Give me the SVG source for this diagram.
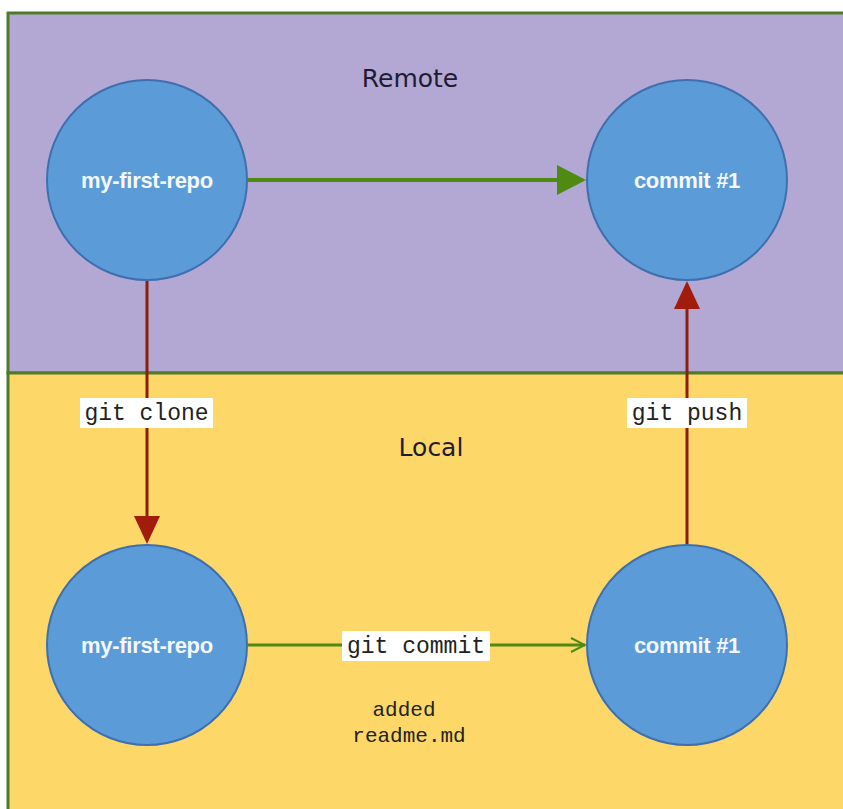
<svg xmlns="http://www.w3.org/2000/svg" width="843" height="809" viewBox="0 0 843 809">
<style>
.zone{stroke:#4f7a28;stroke-width:3}
.node circle{fill:#5b9bd8;stroke:#3f6fae;stroke-width:2}
.node text{font-family:"Liberation Sans",Arial,sans-serif;font-size:22px;font-weight:bold;fill:#f4f8fc;text-anchor:middle;letter-spacing:-0.3px}
.title{font-family:"DejaVu Sans",Verdana,sans-serif;font-size:25px;fill:#1e1b33;text-anchor:middle}
.lbl{font-family:"Liberation Mono","Courier New",monospace;font-size:23px;fill:#222;text-anchor:middle}
.note{font-family:"Liberation Mono","Courier New",monospace;font-size:21px;fill:#222;text-anchor:middle}
.lblbg{fill:#fff}
.g{stroke:#4f8a12;fill:none}
.r{stroke:#8b1e0c;stroke-width:3;fill:none}
</style>
<defs>
<marker id="agt" markerWidth="16" markerHeight="16" refX="15" refY="8" orient="auto" markerUnits="userSpaceOnUse"><path d="M1,1 L15,8 L1,15" fill="none" stroke="#4f8a12" stroke-width="2"/></marker>
</defs>
<rect width="843" height="809" fill="#fff"/>
<g id="remote-zone">
<rect class="zone" x="8" y="13" width="840" height="360" fill="#b3a7d4"/>
<text class="title" x="410" y="87">Remote</text>
</g>
<g id="local-zone">
<rect class="zone" x="8" y="373" width="840" height="445" fill="#fdd868"/>
<text class="title" x="431" y="456">Local</text>
</g>
<g id="connectors">
<line class="g" x1="248" y1="180" x2="570" y2="180" stroke-width="4"/>
<polygon points="557,165 586,180 557,195" fill="#4f8a12"/>
<line class="r" x1="147" y1="280" x2="147" y2="520"/>
<polygon points="134,516 160,516 147,544" fill="#a11c0a"/>
<line class="r" x1="687" y1="545" x2="687" y2="305"/>
<polygon points="674,309 700,309 687,281" fill="#a11c0a"/>
<line class="g" x1="248" y1="645" x2="585" y2="645" stroke-width="3" marker-end="url(#agt)"/>
<rect class="lblbg" x="80" y="398" width="133" height="30"/>
<text class="lbl" x="146.5" y="420">git clone</text>
<rect class="lblbg" x="627" y="398" width="120" height="30"/>
<text class="lbl" x="687" y="420">git push</text>
<rect class="lblbg" x="342" y="631" width="148" height="30"/>
<text class="lbl" x="416" y="653">git commit</text>
<text class="note" x="404" y="716">added</text>
<text class="note" x="409" y="742">readme.md</text>
</g>
<g id="remote-repo" class="node"><circle cx="147" cy="180" r="100"/><text x="147" y="188">my-first-repo</text></g>
<g id="remote-commit" class="node"><circle cx="687" cy="180" r="100"/><text x="687" y="188">commit #1</text></g>
<g id="local-repo" class="node"><circle cx="147" cy="645" r="100"/><text x="147" y="653">my-first-repo</text></g>
<g id="local-commit" class="node"><circle cx="687" cy="645" r="100"/><text x="687" y="653">commit #1</text></g>
</svg>
